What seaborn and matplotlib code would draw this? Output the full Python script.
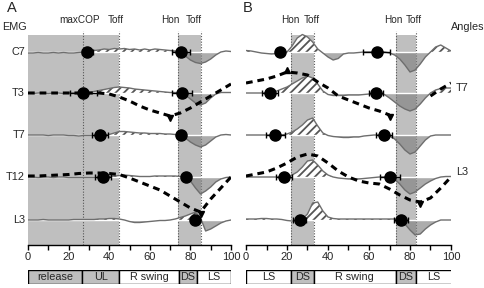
import numpy as np
import seaborn as sns
import matplotlib.pyplot as plt

sns.set_theme(style="white")
plt.rcParams['font.family'] = ['Liberation Sans', 'DejaVu Sans']
plt.rcParams['hatch.linewidth'] = 1.3

# % of cycle, sampled every 2.5 % for the EMG traces, every 5 % for the angles
pct = np.arange(0, 100.1, 2.5)
pct_ang = np.arange(0, 100.1, 5)

row_names = ["C7", "T3", "T7", "T12", "L3"]
row_base = [193, 152, 110, 68, 25]   # vertical offset of each trace

# panel A (EMG, deviation from baseline)
emg_a_c7 = [-1, -1, -0.5, -1, -1, -0.5, -1, -0.5, -1, -1, -0.5,
            0, 0.5, 1.5, 2, 3, 2.5, 3.5, 3, 3.5, 2.5,
            3, 2, 3, 2, 3, 2.5, 2, 1.5, 1, 0,
            -4, -8, -10.5, -11.5, -10, -7, -3, 0, 1, 0.5]
emg_a_t3 = [0, -0.5, 0, 0, -0.5, 0, 0, -0.5, 0, 0, 0,
            0, 0.5, 1.5, 2.5, 3.5, 4.5, 5.5, 6, 5.5, 5,
            4, 3.5, 3, 2.5, 2, 1.5, 1, 0.5, 0.5, 0,
            -2, -6, -10, -12, -10, -5, -1, 0.5, 0.5, 0.5]
emg_a_t7 = [0, 0, 0, 0, -0.5, 0, 0, 0, -0.5, -0.5, -1,
            -0.5, -0.5, -0.5, 0, 0, 0.5, 2, 3.5, 3.5, 3,
            2.5, 2, 2, 1.5, 1.5, 1.5, 1, 1, 0.5, 0,
            -3, -7, -10, -12, -10, -6, -2, 0, 0.5, 0]
emg_a_t12 = [0, 0, -0.5, 0, 0, -0.5, 0, 0, -0.5, -0.5, -0.5,
             -0.5, -0.5, -0.5, -0.5, 0, 0.5, 1, 1.5, 2, 1.5,
             1, 0.5, 0.5, 0.5, 1, 1, 1, 1, 1, 0.5,
             0, -4, -11, -17, -14, -10, -5, -2, -0.5, 0]
emg_a_l3 = [0, 0, 0, 0.5, 0, 0, 0, 0, 0, 0.5, 0.5,
            0.5, 0.5, 0.5, 1, 1, 1.5, 1.5, 1, 0, -1.5,
            -2.5, -2.5, -2, -1.5, -1, -0.5, -0.5, 0, 1, 2.5,
            4, 6, 8, 2, -11, -9, -6, -3, -1, 0]

# panel B
emg_b_1 = [1.5, 1, 0, -1, -1.5, -2, -1.5, -1, 0, 6, 14,
           17.5, 15, 10, 3, -1, -5, -8, -6.5, -2, -1,
           -1, -0.5, 0, 0, 0, 0, 0, -1, -3, -7,
           -13, -20, -18, -12, -5, 0, 5, 7, 4, 1]
emg_b_2 = [0, 0, 0, 0, 0, 0.5, 2, 4, 6, 9, 12,
           15, 17, 15, 9, 2, -1.5, -2.5, -2.5, -2.5, -2,
           -2, -2, -1.5, -1, -0.5, 0, -1.5, -5, -9, -13,
           -16, -18, -16, -11, -5, 0, 3, 4.5, 5, 5]
emg_b_3 = [0, 0, 0, 0, 0, 0, 0, 0, 1, 3, 6,
           10, 15, 17, 9, 2, -0.5, -1.5, -2, -2.5, -2.5,
           -2, -2, -1, -0.5, 0, 0, 0, -1, -4, -9,
           -15, -19, -17, -11, -5, -1, 0, 0, 0, 0]
emg_b_4 = [0, 0, 0, 0, 0, 0, 0, 0, 0.5, 2, 5,
           10, 16, 17, 12, 6, 2, 0, -1, -1.5, -2,
           -2, -2, -1.5, -1, -0.5, 0, 0, 0, -2, -7,
           -13, -17, -15, -11, -7, -4, -1.5, 0, 0.5, 0.5]
emg_b_5 = [1, 1, 1, 1.5, 1.5, 1, 1, 0.5, -0.5, -1, -0.5,
           1, 6, 17, 18, 9, 3, 1.5, 1, 1, 1,
           1, 1, 1, 1, 1, 1, 1, 1, 1, 0,
           -4, -10, -15, -14, -9, -5, -2, 0, 0, 0]

# dashed angle curves
ang_a_t3 = [0, 0, 0, 0, 0, 0, 0, 0, -1, -4, -8,
            -13, -17, -20, -23, -20, -15, -9, -3, 3, 9]
ang_a_t12 = [1, 1, 1.5, 2, 2.5, 3.5, 4, 4, 3.5, 2.5, -1,
             -5, -9, -13, -19, -25, -31, -35, -22, -11, 0]
ang_b_t7 = [10, 12, 14, 17, 21, 20, 18, 11, 5, -3, -7,
            -11, -15, -18, -22, np.nan, np.nan, np.nan, -3, 4, 10]
ang_b_l3 = [1, 3, 5, 9, 14, 20, 23, 21, 14, 6, 0,
            -4, -6, -7, -12, -18, -23, -25, -21, -11, 0]

# onsets (row index, % cycle, sd)
onset_a_row = [0, 0, 1, 1, 2, 2, 3, 3, 4]
onset_a_x = [29.3, 75.5, 27.3, 75.8, 35.5, 75.4, 36.8, 77.8, 82.3]
onset_a_err = [2.7, 4.5, 6.6, 4.8, 4, 0, 4, 0, 0]
onset_b_row = [0, 0, 1, 1, 2, 2, 3, 3, 4, 4]
onset_b_x = [16.6, 63.7, 11.7, 63.3, 14.3, 67.3, 18.4, 70.2, 26.2, 75.8]
onset_b_err = [0, 6.5, 4, 3.5, 4.6, 3.7, 3.8, 4.8, 3.1, 3.4]

# events and phases
events_a = [27, 45, 74, 85]
event_lab_a = ["maxCOP", "Toff", "Hon", "Toff"]
event_lab_pos_a = [25.6, 43.3, 70, 81.6]
events_b = [22, 33, 73, 83]
event_lab_b = ["Hon", "Toff", "Hon", "Toff"]
event_lab_pos_b = [21.8, 32, 72, 82]

phase_a = ["release", "UL", "R swing", "DS", "LS"]
phase_a_edges = [0, 26.6, 45, 74.4, 83.3, 100]
phase_a_grey = [True, True, False, True, False]
phase_b = ["LS", "DS", "R swing", "DS", "LS"]
phase_b_edges = [0, 22, 33, 73, 83, 100.5]
phase_b_grey = [False, True, False, True, False]

W, H = 485, 288
fig = plt.figure(figsize=(W / 100, H / 100), dpi=100)

GREY = "#bfbfbf"


def fr(x0, y0, x1, y1):
    return [x0 / W, 1 - y1 / H, (x1 - x0) / W, (y1 - y0) / H]


def draw_trace(ax, base, vals):
    y = base + np.asarray(vals, dtype=float)
    ax.fill_between(pct, base, y, where=y >= base, interpolate=True,
                    facecolor="white", edgecolor="#555555", hatch="////",
                    linewidth=0, zorder=3)
    ax.fill_between(pct, base, y, where=y <= base, interpolate=True,
                    color="#808080", alpha=0.65, linewidth=0, zorder=3)
    ax.plot([0, 100], [base, base], color="white", lw=1, zorder=4)
    sns.lineplot(x=pct, y=y, ax=ax, color="#6e6e6e", lw=1, zorder=5)


def draw_angle(ax, base, vals, up=False):
    v = np.asarray(vals, dtype=float)
    ax.plot(pct_ang, base + v, color="black", lw=2.2,
            ls=(0, (2.2, 1.6)), zorder=6)
    i = np.nanargmin(v)
    ax.plot(pct_ang[i], base + v[i] - 2, marker="v", color="black", ms=5, zorder=6)
    if up:
        j = np.nanargmax(v)
        ax.plot(pct_ang[j], base + v[j] + 2, marker="^", color="black", ms=5, zorder=6)


def setup(ax, bands, events, labs, labpos):
    ax.set_xlim(0, 100)
    ax.set_ylim(0, 225)
    for a, b in bands:
        ax.axvspan(a, b, ymin=0, ymax=210 / 225, color=GREY, lw=0, zorder=0)
    ax.vlines(events, 0, 214, colors="#555555", linestyles=(0, (1, 1.5)),
              lw=0.8, zorder=1)
    for t, p in zip(labs, labpos):
        ax.text(p, 225, t, ha="center", va="center", fontsize=7.2)
    for s in ["top", "left", "right"]:
        ax.spines[s].set_visible(False)
    ax.spines["bottom"].set_color("black")
    ax.spines["bottom"].set_linewidth(1)
    ax.set_yticks([])
    ax.set_xticks(range(0, 101, 20))
    ax.set_xticks(range(10, 100, 20), minor=True)
    ax.tick_params(axis="x", which="both", bottom=True, direction="out",
                   length=3.5, width=1, color="black", labelsize=8, pad=1.5)


def phase_bar(ax, names, edges, grey):
    starts = edges[:-1]
    widths = np.diff(edges)
    cols = [GREY if g else "white" for g in grey]
    ax.barh(0, widths, left=starts, height=1, color=cols,
            edgecolor="black", linewidth=1)
    for n, s, w in zip(names, starts, widths):
        ax.text(s + w / 2, 0, n, ha="center", va="center", fontsize=7.8)
    ax.set_xlim(0, 100)
    ax.set_ylim(-0.5, 0.5)
    ax.axis("off")


ax_a = fig.add_axes(fr(28, 20, 231, 245))
ax_b = fig.add_axes(fr(246, 20, 451, 245))
setup(ax_a, [(0, 45), (74, 85)], events_a, event_lab_a, event_lab_pos_a)
setup(ax_b, [(22, 33), (73, 83)], events_b, event_lab_b, event_lab_pos_b)

for base, vals in zip(row_base, [emg_a_c7, emg_a_t3, emg_a_t7, emg_a_t12, emg_a_l3]):
    draw_trace(ax_a, base, vals)
for base, vals in zip(row_base, [emg_b_1, emg_b_2, emg_b_3, emg_b_4, emg_b_5]):
    draw_trace(ax_b, base, vals)

draw_angle(ax_a, row_base[1], ang_a_t3)
draw_angle(ax_a, row_base[3], ang_a_t12)
draw_angle(ax_b, row_base[1], ang_b_t7, up=True)
draw_angle(ax_b, row_base[3], ang_b_l3)

for ax, rows, xs, errs in [(ax_a, onset_a_row, onset_a_x, onset_a_err),
                           (ax_b, onset_b_row, onset_b_x, onset_b_err)]:
    ys = [row_base[r] for r in rows]
    ax.errorbar(xs, ys, xerr=errs, fmt="o", color="black", ms=8,
                elinewidth=1, capsize=2.5, capthick=1, zorder=7)

phase_bar(fig.add_axes(fr(28, 270, 231, 284)), phase_a, phase_a_edges, phase_a_grey)
phase_bar(fig.add_axes(fr(246, 270, 451, 284)), phase_b, phase_b_edges, phase_b_grey)

# labels
fig.text(7 / W, 1 - 8 / H, "A", fontsize=10.5, va="center")
fig.text(243 / W, 1 - 8 / H, "B", fontsize=10.5, va="center")
fig.text(15 / W, 1 - 27 / H, "EMG", fontsize=7.8, ha="center", va="center")
for name, base in zip(row_names, row_base):
    fig.text(25 / W, (base + 43) / H, name, fontsize=7.8, ha="right", va="center")
fig.text(468 / W, 1 - 27 / H, "Angles", fontsize=7.8, ha="center", va="center")
fig.text(456 / W, 1 - 88 / H, "T7", fontsize=7.8, ha="left", va="center")
fig.text(456 / W, 1 - 172 / H, "L3", fontsize=7.8, ha="left", va="center")

fig.savefig("out.png", dpi=100)
